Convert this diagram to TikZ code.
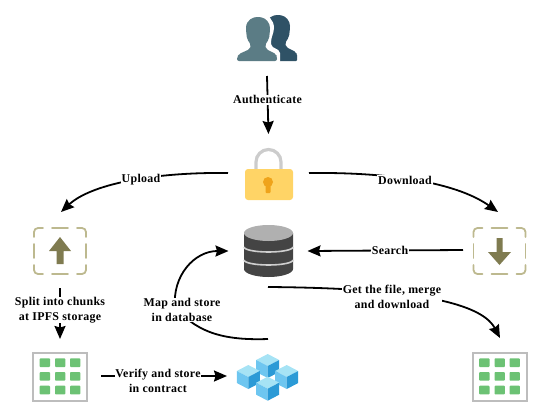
\documentclass[tikz,border=0pt]{standalone}
\usepackage{fontspec}
\setmainfont{Liberation Serif}[LetterSpace=2.5]
\usetikzlibrary{arrows.meta}
\definecolor{frontp}{HTML}{5B7C85}
\definecolor{backp}{HTML}{2F5266}
\definecolor{lockb}{HTML}{FFD466}
\definecolor{lockk}{HTML}{EFA31A}
\definecolor{dashc}{HTML}{BDB98F}
\definecolor{arrc}{HTML}{7F7B50}
\definecolor{gridb}{HTML}{BDBDBD}
\definecolor{gridg}{HTML}{6CC274}
\definecolor{dbtop}{HTML}{B0B0B0}
\definecolor{dbbody}{HTML}{444444}
\definecolor{dbband}{HTML}{CFCFCF}
\definecolor{cubet}{HTML}{A6E3F5}
\definecolor{cubel}{HTML}{6EC6F0}
\definecolor{cuber}{HTML}{2B9AD6}
\tikzset{
  anchorbox/.style={inner sep=0pt,outer sep=0pt,minimum width=#1},
  conn/.style={line width=1.8pt,-{Stealth[length=13pt,width=11pt,inset=1.5pt]}},
  lab/.style={fill=white,inner sep=0.8pt,align=center,font=\fontsize{11.9}{14.4}\selectfont\bfseries},
  dashb/.style={draw=dashc,line width=1.8pt,line cap=round},
}
\newcommand{\gridicon}[2]{%
  \begin{scope}[shift={(#1,#2)}]
    \draw[gridb,line width=2pt,fill=white] (33,353) rectangle (87,401);
    \foreach \cx in {39.7,55,70}{\foreach \cy in {358.3,372,385.7}{
      \fill[gridg,rounded corners=0.8pt] (\cx,\cy) rectangle ++(10.3,8.7);}}
  \end{scope}}
\newcommand{\dashicon}[1]{%
  \begin{scope}[shift={(#1,0)}]
    \draw[dashb] (34,237) -- (34,232) arc[start angle=180,end angle=270,radius=4] -- (43,228);
    \draw[dashb] (52,228) -- (68,228);
    \draw[dashb] (77,228) -- (82,228) arc[start angle=270,end angle=360,radius=4] -- (86,237);
    \draw[dashb] (86,244) -- (86,258);
    \draw[dashb] (86,265) -- (86,270) arc[start angle=0,end angle=90,radius=4] -- (77,274);
    \draw[dashb] (52,274) -- (68,274);
    \draw[dashb] (43,274) -- (38,274) arc[start angle=90,end angle=180,radius=4] -- (34,265);
    \draw[dashb] (34,244) -- (34,258);
  \end{scope}}
\newcommand{\cubeicon}[2]{%
  \fill[cubet] (#1,#2-12) -- (#1+11.5,#2-6) -- (#1,#2) -- (#1-11.5,#2-6) -- cycle;
  \fill[cubel] (#1-11.5,#2-6) -- (#1,#2) -- (#1,#2+12) -- (#1-11.5,#2+6) -- cycle;
  \fill[cuber] (#1+11.5,#2-6) -- (#1,#2) -- (#1,#2+12) -- (#1+11.5,#2+6) -- cycle;}
\newcommand{\personicon}[3]{%
  \begin{scope}[shift={(#1,#2)}]
    \fill[#3,rounded corners=2pt] (-21,31) -- (-21,27) -- (-19,24) -- (-8,19) -- (-7,15) -- (-11,9) -- (-12,0)
      .. controls (-12,-10) and (-5,-13) .. (1,-13) .. controls (8,-12) and (12,-7) .. (12,0)
      -- (11,9) -- (7,15) -- (8,19) -- (18,24) -- (19,27) -- (19,31) -- cycle;
  \end{scope}}
\begin{document}
\begin{tikzpicture}[x=1pt,y=-1pt]
\useasboundingbox (0,0) rectangle (547,418);
% users
\personicon{278}{28}{backp}
\fill[backp,rounded corners=1pt] (270,54) rectangle (297,61);
\fill[white,rounded corners=2pt] (235,63) -- (235,54) -- (247,47) -- (246,40) -- (244,30) .. controls (244,17) and (252,14) .. (259,14) .. controls (268,14) and (274,20) .. (274,30) -- (271,40) -- (271,46) -- (280,51) -- (280,63) -- cycle;
\personicon{258}{30}{frontp}
% lock
\draw[line width=3.2pt,color=black!20] (256,170) -- (256,162) arc[start angle=180,end angle=360,radius=12.5] -- (281,170);
\fill[lockb,rounded corners=3pt] (245,169) rectangle (293,200);
\fill[lockk] (268,182) circle[radius=5];
\fill[lockk,rounded corners=1pt] (265.5,182) rectangle (270.5,193);
% dashed boxes
\dashicon{0}
\fill[arrc] (60,237) -- (71,251) -- (63.5,251) -- (63.5,264) -- (56.5,264) -- (56.5,251) -- (49,251) -- cycle;
\dashicon{439.5}
\fill[arrc] (499.5,265) -- (511,252) -- (502.5,252) -- (502.5,238) -- (496.5,238) -- (496.5,252) -- (488,252) -- cycle;
% database
\fill[dbbody] (244,233) -- (244,269) arc[start angle=180,end angle=0,x radius=24.5,y radius=8] -- (293,233) -- cycle;
\fill[dbtop] (268.5,233) ellipse[x radius=24.5,y radius=8];
\draw[dbband,line width=1.6pt] (244,247) arc[start angle=180,end angle=0,x radius=24.5,y radius=5];
\draw[dbband,line width=1.6pt] (244,260) arc[start angle=180,end angle=0,x radius=24.5,y radius=5];
% grids
\gridicon{0}{0}
\gridicon{439.5}{0}
% cubes
\cubeicon{267.7}{366}
\cubeicon{248.3}{377}
\cubeicon{286.7}{377}
\cubeicon{267.7}{388.7}
% anchor nodes
\node[anchorbox=60pt,minimum height=72pt] (users) at (267,40) {};
\node[anchorbox=81pt,minimum height=78pt] (lock) at (268.5,173) {};
\node[anchorbox=70pt,minimum height=76pt] (upbox) at (61,250) {};
\node[anchorbox=70pt,minimum height=76pt] (downbox) at (498,250) {};
\node[anchorbox=79pt,minimum height=72pt] (db) at (268,251) {};
\node[anchorbox=82pt,minimum height=74pt] (gridl) at (60,376) {};
\node[anchorbox=82pt,minimum height=74pt] (cubes) at (268,376) {};
\node[anchorbox=60pt,minimum height=76pt] (gridr) at (500,376) {};
\coordinate (bend) at (175,308);
% connectors
\draw[conn] (users.south) -- (lock.north);
\draw[conn] (lock.west) .. controls (150,172) and (90,185) .. (upbox.north);
\draw[conn] (lock.east) .. controls (400,172) and (460,185) .. (downbox.north);
\draw[conn] (downbox.west) -- (db.east);
\draw[conn] (upbox.south -| gridl.north) -- (gridl.north);
\draw[conn] (gridl.east) -- (cubes.west);
\draw[conn] (cubes.north) .. controls (215,341) and (195,328) .. (bend) .. controls (172,275) and (195,251) .. (db.west);
\draw[conn] (db.south) .. controls (400,288) and (480,300) .. (gridr.north);
% labels
\node[lab] (lauth) at (267.5,99.5) {Authenticate};
\node[lab] (lup) at (141,180) {Upload};
\node[lab] (ldown) at (405,180) {Download};
\node[lab] (lsearch) at (390,250.5) {Search};
\node[lab] (lsplit) at (60,310) {Split into chunks\\at IPFS storage};
\node[lab] (lverify) at (158,381) {Verify and store\\in contract};
\node[lab] (lmap) at (182,310) {Map and store\\in database};
\node[lab] (lget) at (392,297) {Get the file, merge\\and download};
\end{tikzpicture}
\end{document}
